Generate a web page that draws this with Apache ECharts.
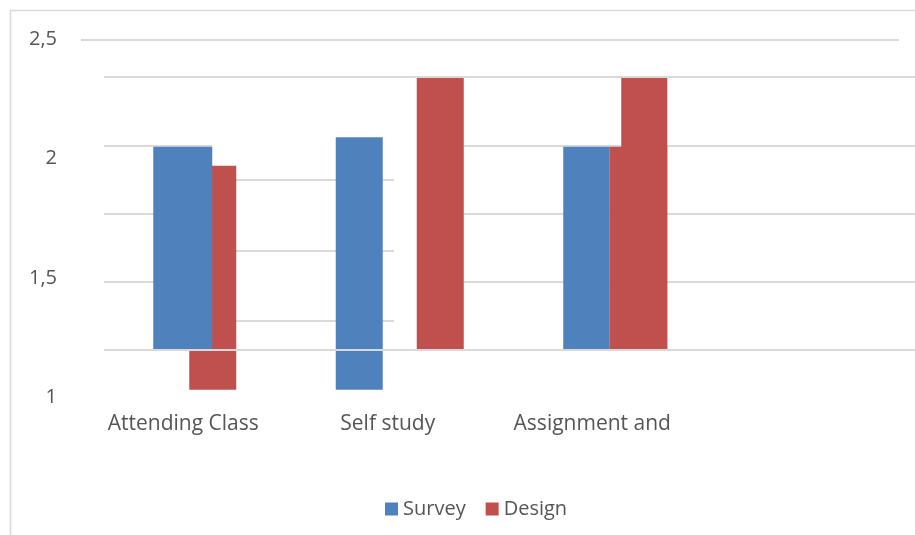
<!DOCTYPE html>
<html><head><meta charset="utf-8">
<script src="https://cdn.jsdelivr.net/npm/echarts@6/dist/echarts.min.js"></script>
<style>html,body{margin:0;padding:0;background:#fff}#c{width:915px;height:535px}</style>
</head><body><div id="c"></div>
<script>
// ---- data ----
const categories = ['Attending Class', 'Self study', 'Assignment and', ''];
const yTicks = ['1', '1,5', '2', '2,5'];
const surveyBase = [1.2, 1.03, 1.2];
const surveyTop = [2.05, 2.09, 2.05];
const designBase = [1.03, 1.2, 1.2];
const designTop = [1.97, 2.34, 2.34];

// ---- layout (pixel offsets from category centre, widths) ----
const layout = {
  Survey: [{dx: -30, w: 59}, {dx: -52, w: 47}, {dx: -29, w: 46}],
  Design: [{dx: 6, w: 47}, {dx: 29, w: 47}, {dx: 29, w: 46, lowDx: 17, lowW: 58}]
};
const colors = {Survey: '#4F81BD', Design: '#C0504D'};
const gridColor = '#d9d9d9';
const textColor = '#555555';
const font = 'Open Sans';

function makeRender(name) {
  return function (params, api) {
    const cat = api.value(0);
    const lo = api.coord([cat, api.value(1)]);
    const hi = api.coord([cat, api.value(2)]);
    const L = layout[name][cat];
    const style = {fill: colors[name]};
    const children = [{type: 'rect', shape: {x: lo[0] + L.dx, y: hi[1], width: L.w, height: lo[1] - hi[1]}, style: style}];
    if (L.lowW) {
      const cap = api.coord([cat, api.value(3)]);
      children.push({type: 'rect', shape: {x: lo[0] + L.lowDx, y: cap[1], width: L.lowW, height: lo[1] - cap[1]}, style: style});
    }
    return {type: 'group', children: children};
  };
}

const surveyData = surveyBase.map((b, i) => [i, b, surveyTop[i], surveyTop[i]]);
const designData = designBase.map((b, i) => [i, b, designTop[i], surveyTop[i]]);

function hiddenX(i) {
  return {type: 'value', gridIndex: i, show: false, min: 0, max: 1};
}
function lineY(i, max, z) {
  return {type: 'value', gridIndex: i, min: 0, max: max, interval: 1, z: z || 0,
    axisLabel: {show: false}, axisLine: {show: false}, axisTick: {show: false},
    splitLine: {show: true, lineStyle: {color: gridColor, width: 2}}};
}

const chart = echarts.init(document.getElementById('c'));
chart.setOption({
  animation: false,
  backgroundColor: '#fff',
  graphic: [{type: 'rect', silent: true, shape: {x: 10.5, y: 10.5, width: 1000, height: 1000},
    style: {fill: 'none', stroke: gridColor, lineWidth: 1.5}}],
  legend: {
    data: ['Survey', 'Design'], left: 380, top: 494, itemWidth: 13, itemHeight: 13, itemGap: 20,
    icon: 'rect', textStyle: {fontSize: 20, color: textColor, fontFamily: font}
  },
  grid: [
    {left: 81, right: 16, top: 39.5, bottom: 138, outerBoundsMode: 'none'},
    {left: 104, width: 108, top: 77, height: 273, outerBoundsMode: 'none'},
    {left: 236, width: 158, top: 180, height: 141, outerBoundsMode: 'none'},
    {left: 464, right: 0, top: 77, height: 273, outerBoundsMode: 'none'},
    {left: 104, right: 0, top: 77, height: 273, outerBoundsMode: 'none'}
  ],
  xAxis: [
    {type: 'category', gridIndex: 0, data: categories,
      axisLine: {show: false}, axisTick: {show: false}, splitLine: {show: false},
      axisLabel: {interval: 0, fontSize: 21, color: textColor, fontFamily: font, margin: 17}},
    hiddenX(1), hiddenX(2), hiddenX(3), hiddenX(4)
  ],
  yAxis: [
    {type: 'value', gridIndex: 0, min: 1, max: 2.5, interval: 0.5,
      axisLine: {show: false}, axisTick: {show: false},
      axisLabel: {fontSize: 20, color: textColor, fontFamily: font, margin: 24,
        formatter: v => yTicks[Math.round((v - 1) / 0.5)]},
      splitLine: {show: true, lineStyle: {color: ['rgba(0,0,0,0)', 'rgba(0,0,0,0)', 'rgba(0,0,0,0)', gridColor], width: 2}}},
    lineY(1, 4), lineY(2, 2), lineY(3, 4), lineY(4, 1, 10)
  ],
  series: [
    {name: 'Design', type: 'custom', xAxisIndex: 0, yAxisIndex: 0, z: 2,
      itemStyle: {color: colors.Design}, renderItem: makeRender('Design'),
      encode: {x: 0, y: [1, 2, 3]}, data: designData},
    {name: 'Survey', type: 'custom', xAxisIndex: 0, yAxisIndex: 0, z: 3,
      itemStyle: {color: colors.Survey}, renderItem: makeRender('Survey'),
      encode: {x: 0, y: [1, 2, 3]}, data: surveyData}
  ]
});
</script>
</body></html>
